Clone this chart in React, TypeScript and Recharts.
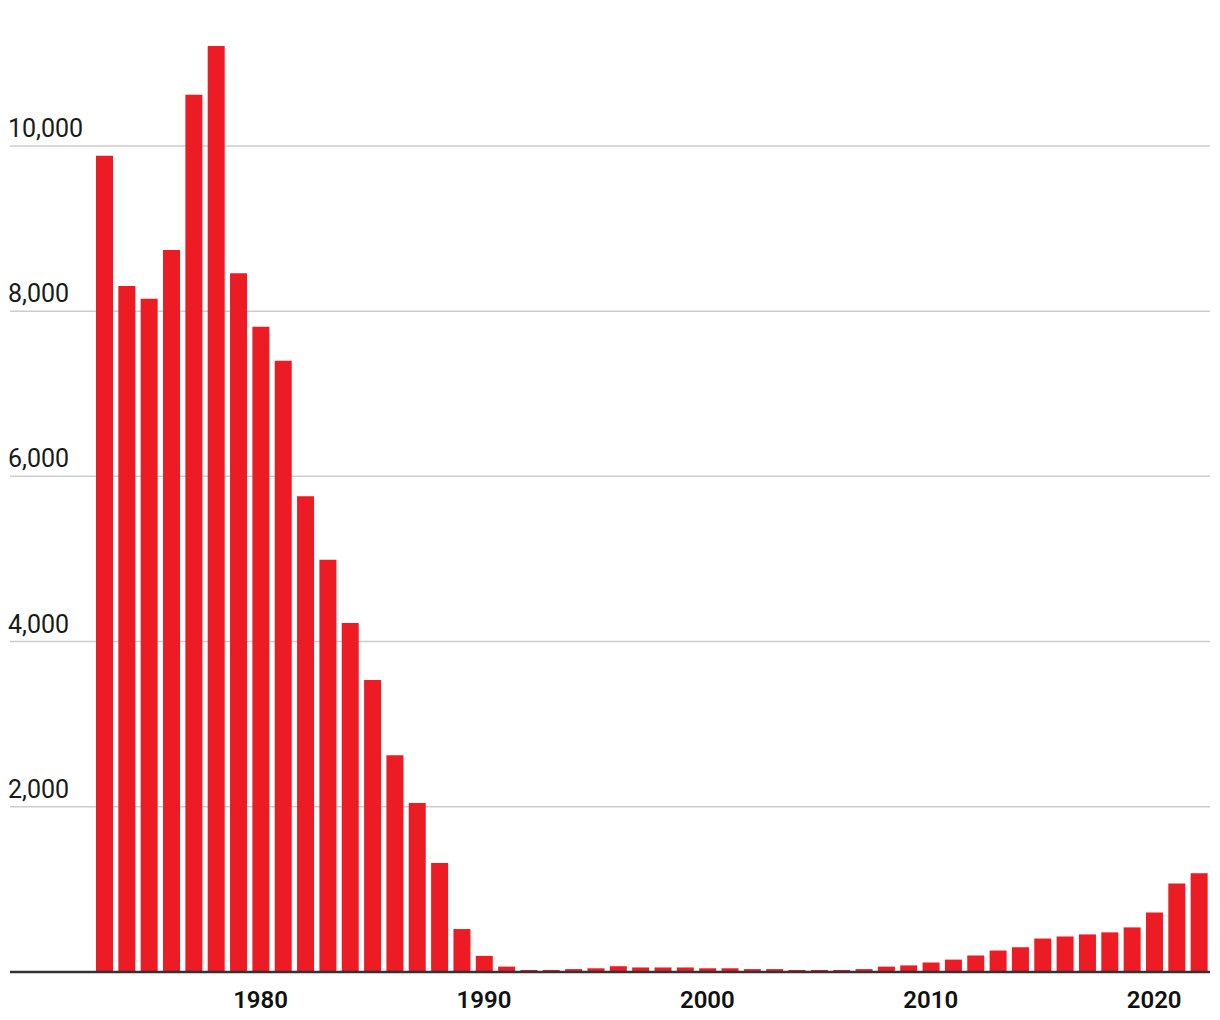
import React from 'react';
import { BarChart, Bar, XAxis, YAxis, CartesianGrid } from 'recharts';

const years = [
  1973, 1974, 1975, 1976, 1977, 1978, 1979, 1980, 1981, 1982,
  1983, 1984, 1985, 1986, 1987, 1988, 1989, 1990, 1991, 1992,
  1993, 1994, 1995, 1996, 1997, 1998, 1999, 2000, 2001, 2002,
  2003, 2004, 2005, 2006, 2007, 2008, 2009, 2010, 2011, 2012,
  2013, 2014, 2015, 2016, 2017, 2018, 2019, 2020, 2021, 2022,
];

const counts = [
  9880, 8305, 8150, 8740, 10620, 11210, 8460, 7810, 7400, 5760,
  4990, 4225, 3535, 2625, 2045, 1320, 520, 195, 65, 25,
  25, 35, 45, 70, 55, 55, 55, 45, 45, 35,
  35, 25, 25, 25, 35, 65, 80, 115, 150, 200,
  260, 300, 405, 430, 455, 480, 540, 720, 1070, 1195,
];

const yTicks = [2000, 4000, 6000, 8000, 10000];
const xLabels = [1980, 1990, 2000, 2010, 2020];

const data = years.map((year, i) => ({ year, count: counts[i] }));

const RED = '#ed1c24';
const FONT = 'Roboto, "Noto Sans", sans-serif';

const renderYTick = (props: any) => {
  const { y, payload } = props;
  return (
    <text x={8} y={y - 9} fill="#1a1a1a" fontSize={25} fontFamily={FONT} textAnchor="start">
      {Number(payload.value).toLocaleString('en-US')}
    </text>
  );
};

const renderXTick = (props: any) => {
  const { x, y, payload } = props;
  if (!xLabels.includes(Number(payload.value))) return <g />;
  return (
    <text x={x} y={y + 28} fill="#111" fontSize={24} fontWeight={600} fontFamily={FONT} textAnchor="middle">
      {payload.value}
    </text>
  );
};

export default function App() {
  return (
    <div style={{ position: 'absolute', left: 0, top: 0, width: 1220, height: 1020, background: '#fff' }}>
      <BarChart width={1220} height={1020} data={data} margin={{ top: 46, right: 10, left: 0, bottom: 0 }}>
        <CartesianGrid vertical={false} horizontalValues={yTicks} stroke="#cccccc" strokeWidth={1.5} />
        <YAxis
          width={10}
          domain={[0, 'dataMax']}
          ticks={yTicks}
          interval={0}
          axisLine={false}
          tickLine={false}
          tick={renderYTick}
        />
        <XAxis
          dataKey="year"
          height={48}
          padding={{ left: 83, right: 0 }}
          interval={0}
          tickLine={false}
          axisLine={{ stroke: '#333', strokeWidth: 2.5 }}
          tick={renderXTick}
        />
        <Bar dataKey="count" fill={RED} barSize={17} isAnimationActive={false} />
      </BarChart>
    </div>
  );
}
